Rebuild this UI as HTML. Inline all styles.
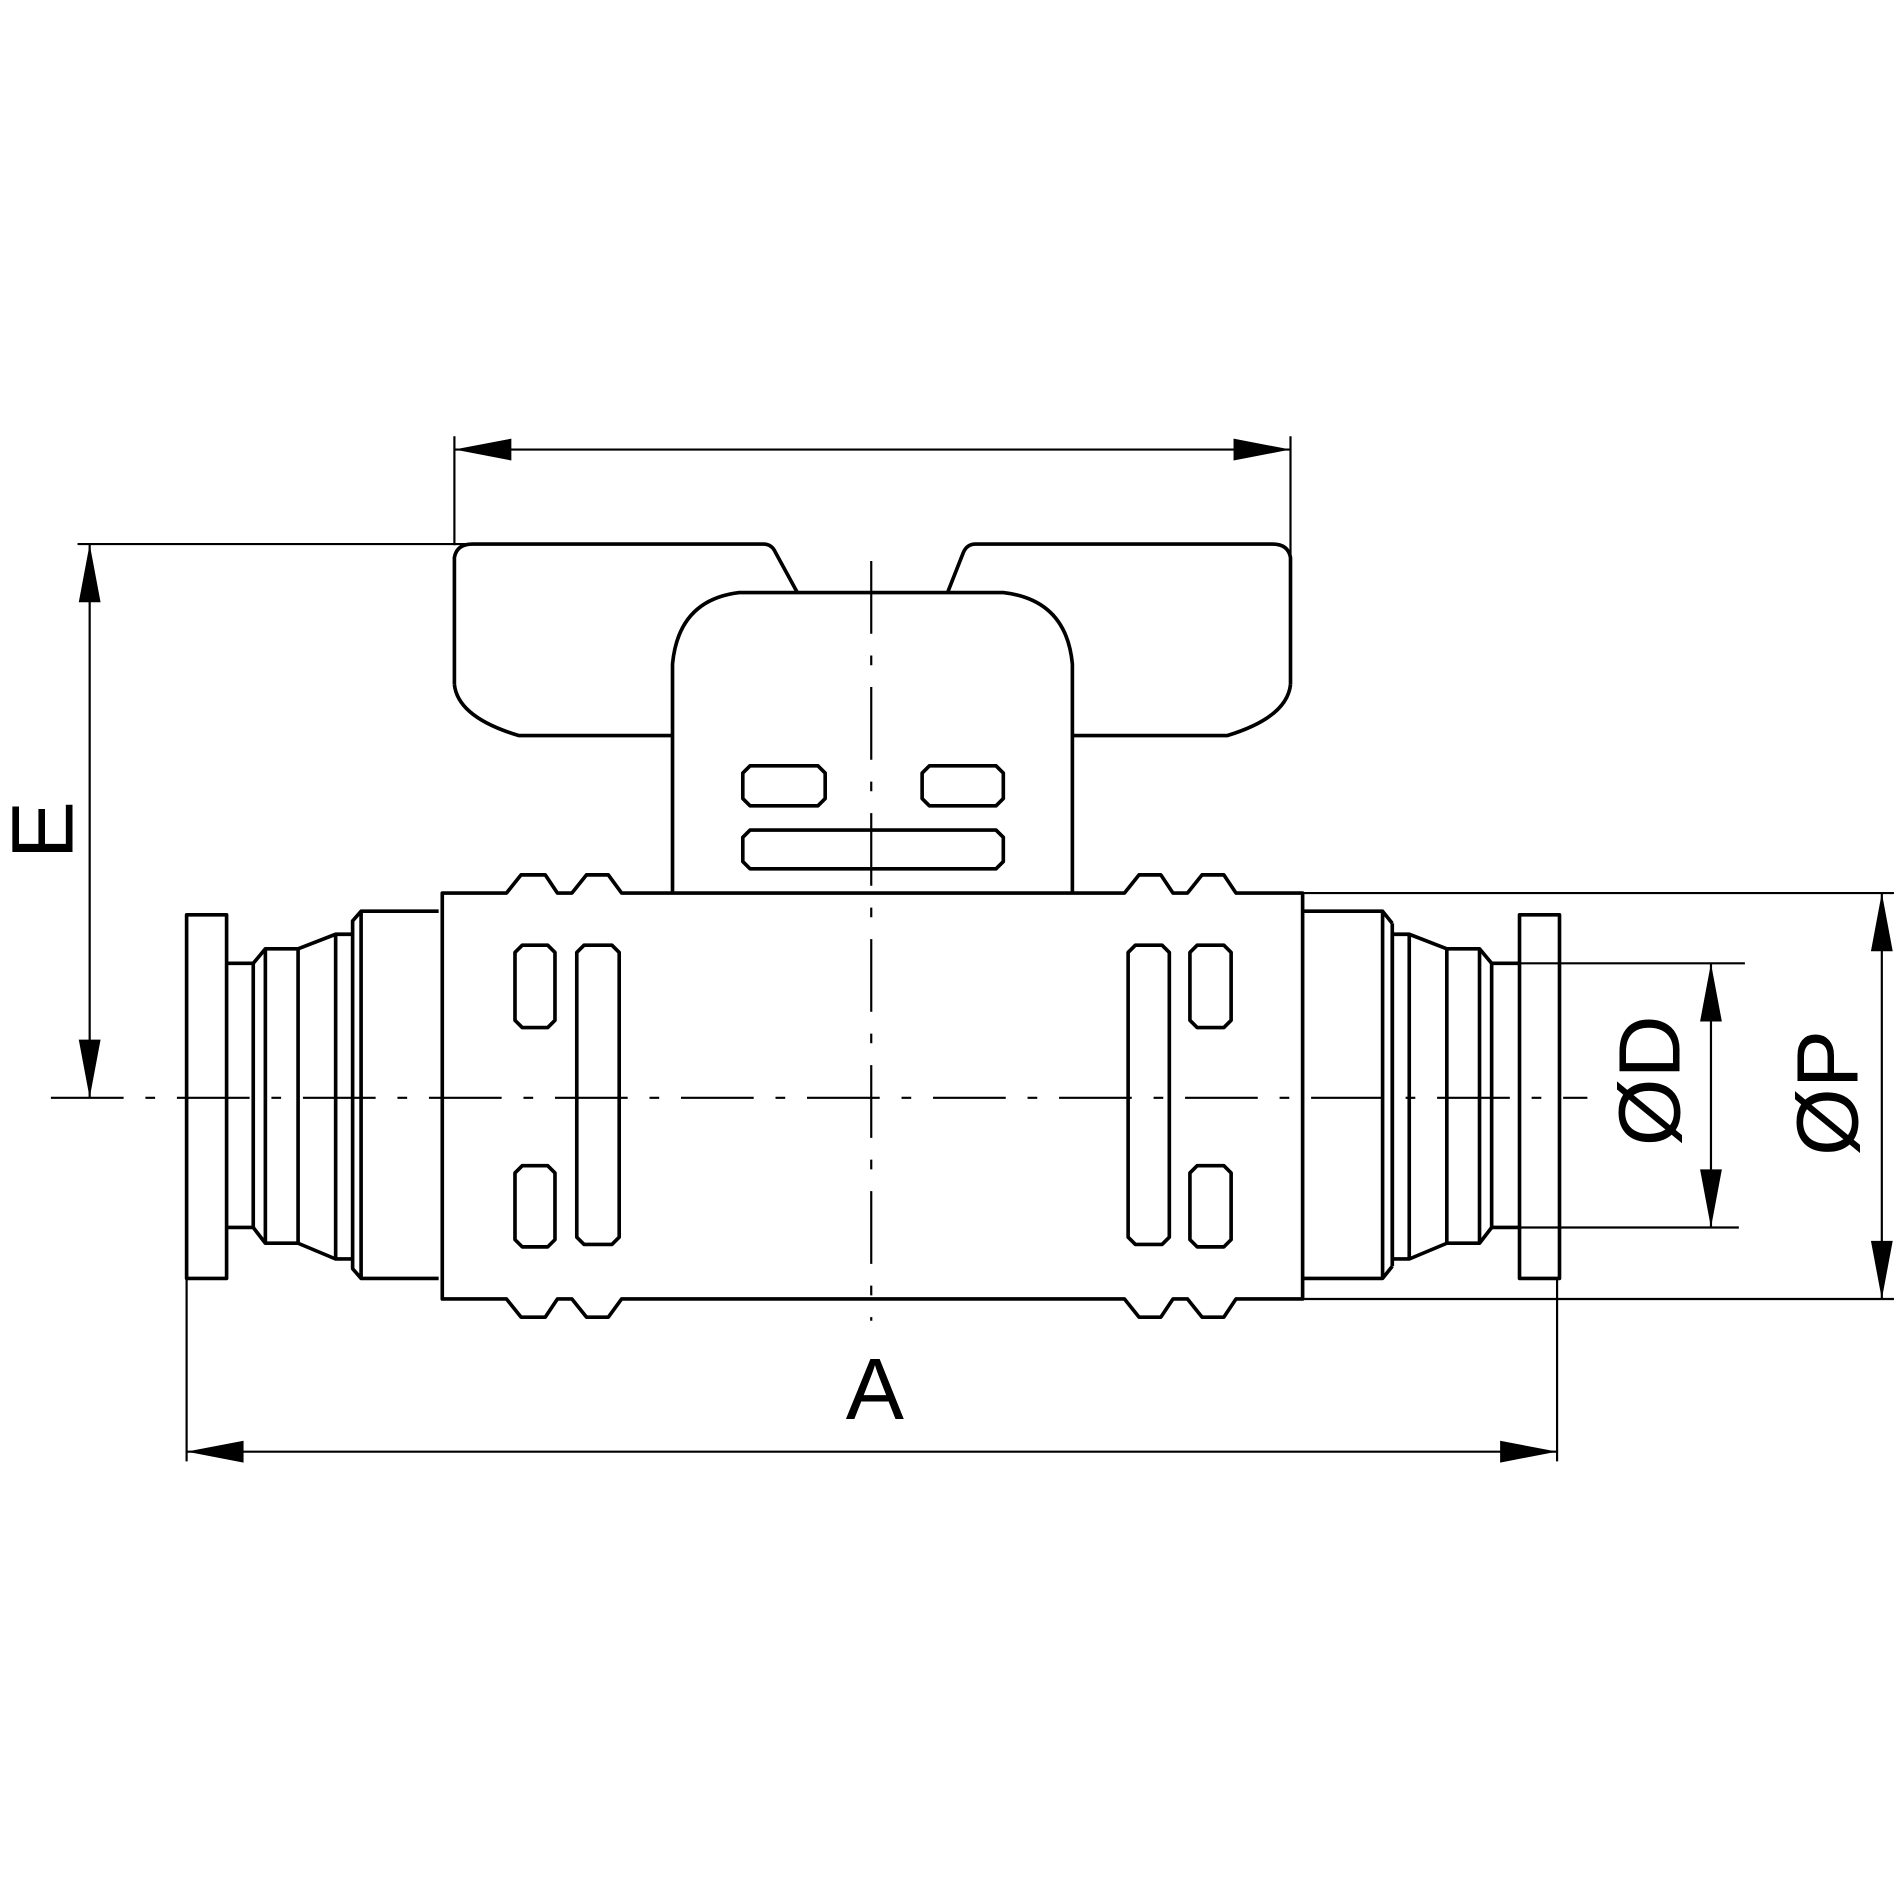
<!DOCTYPE html>
<html><head><style>html,body{margin:0;padding:0;background:#fff}svg{display:block}</style></head><body>
<svg width="1900" height="1900" viewBox="0 0 1568 1568" xmlns="http://www.w3.org/2000/svg">
<g fill="none" stroke="#000" stroke-width="3" stroke-linejoin="round">
<path d="M375,565 L375,460 Q377,449 390,449 L630,449 Q637,449 640,456 L658,489"/>
<path d="M1065,565 L1065,460 Q1063,449 1050,449 L805,449 Q798,449 795,456 L782,489"/>
<path d="M375,565 Q378,592 428,607 L555,607"/>
<path d="M1065,565 Q1062,592 1013,607 L885,607"/>
<path d="M555,737 L555,548 Q560,495 610,489 L828,489 Q880,495 885,548 L885,737"/>
<path d="M619,632 L675,632 L681,638 L681,659 L675,665 L619,665 L613,659 L613,638 Z"/>
<path d="M767,632 L822,632 L828,638 L828,659 L822,665 L767,665 L761,659 L761,638 Z"/>
<path d="M619,685 L822,685 L828,691 L828,711 L822,717 L619,717 L613,711 L613,691 Z"/>
<path d="M365,737 L418,737 L430,722 L450,722 L460,737 L472,737 L484,722 L502,722 L513,737 L928,737 L940,722 L958,722 L968,737 L980,737 L992,722 L1010,722 L1020,737 L1075,737 L1075,1072 L1020,1072 L1010,1087 L992,1087 L980,1072 L968,1072 L958,1087 L940,1087 L928,1072 L513,1072 L502,1087 L484,1087 L472,1072 L460,1072 L450,1087 L430,1087 L418,1072 L365,1072 Z"/>
<path d="M431,780 L452,780 L458,786 L458,842 L452,848 L431,848 L425,842 L425,786 Z"/>
<path d="M431,962 L452,962 L458,968 L458,1023 L452,1029 L431,1029 L425,1023 L425,968 Z"/>
<path d="M482,780 L505,780 L511,786 L511,1021 L505,1027 L482,1027 L476,1021 L476,786 Z"/>
<path d="M937,780 L959,780 L965,786 L965,1021 L959,1027 L937,1027 L931,1021 L931,786 Z"/>
<path d="M988,780 L1010,780 L1016,786 L1016,842 L1010,848 L988,848 L982,842 L982,786 Z"/>
<path d="M988,962 L1010,962 L1016,968 L1016,1023 L1010,1029 L988,1029 L982,1023 L982,968 Z"/>
<rect x="154" y="755" width="33" height="300"/>
<path d="M187,795 L209,795 L209,1013 L187,1013"/>
<path d="M209,795 L219,783 L246,783 L277,771 L291,771 L291,1039 L277,1039 L246,1026 L219,1026 L209,1013"/>
<path d="M219,783 L219,1026 M246,783 L246,1026 M277,771 L277,1039"/>
<path d="M291,771 L291,760 L298,752 L362,752 M291,1039 L291,1047 L298,1055 L362,1055 M298,752 L298,1055"/>
<rect x="1254" y="755" width="33" height="300"/>
<path d="M1254,795 L1231,795 L1231,1013 L1254,1013"/>
<path d="M1231,795 L1221,783 L1194,783 L1163,771 L1149,771 L1149,1039 L1163,1039 L1194,1026 L1221,1026 L1231,1013"/>
<path d="M1221,783 L1221,1026 M1194,783 L1194,1026 M1163,771 L1163,1039"/>
<path d="M1075,752 L1141,752 L1149,762 M1075,1055 L1141,1055 L1149,1045 M1141,752 L1141,1055 M1149,762 L1149,1045"/>
</g>
<g fill="none" stroke="#000" stroke-width="1.8">
<path d="M42,906 L1310,906" stroke-dasharray="60,18,8,18"/>
<path d="M719,463 L719,1090" stroke-dasharray="60,18,8,18"/>
<path d="M375,360 L375,450 M1065,360 L1065,460 M375,371 L1065,371"/>
<path d="M64,449 L385,449 M74,449 L74,906"/>
<path d="M154,1055 L154,1206 M1285,1055 L1285,1206 M154,1198 L1285,1198"/>
<path d="M1254,795 L1440,795 M1254,1013 L1435,1013 M1412,795 L1412,1013"/>
<path d="M1075,737 L1563,737 M1075,1072 L1563,1072 M1553,737 L1553,1072"/>
</g>
<g fill="#000">
<path d="M375,371 L422,362 L422,380 Z M1065,371 L1018,362 L1018,380 Z"/>
<path d="M74,449 L65,497 L83,497 Z M74,906 L65,858 L83,858 Z"/>
<path d="M154,1198 L201,1189 L201,1207 Z M1285,1198 L1238,1189 L1238,1207 Z"/>
<path d="M1412,795 L1403,843 L1421,843 Z M1412,1013 L1403,965 L1421,965 Z"/>
<path d="M1553,737 L1544,785 L1562,785 Z M1553,1072 L1544,1024 L1562,1024 Z"/>
</g>
<g font-family="Liberation Sans, sans-serif" font-size="72" fill="#000">
<text x="722" y="1171" text-anchor="middle">A</text>
<text transform="translate(60,685) rotate(-90)" text-anchor="middle">E</text>
<text transform="translate(1386,892) rotate(-90)" text-anchor="middle">ØD</text>
<text transform="translate(1533,902) rotate(-90)" text-anchor="middle">ØP</text>
</g>
</svg>
</body></html>
